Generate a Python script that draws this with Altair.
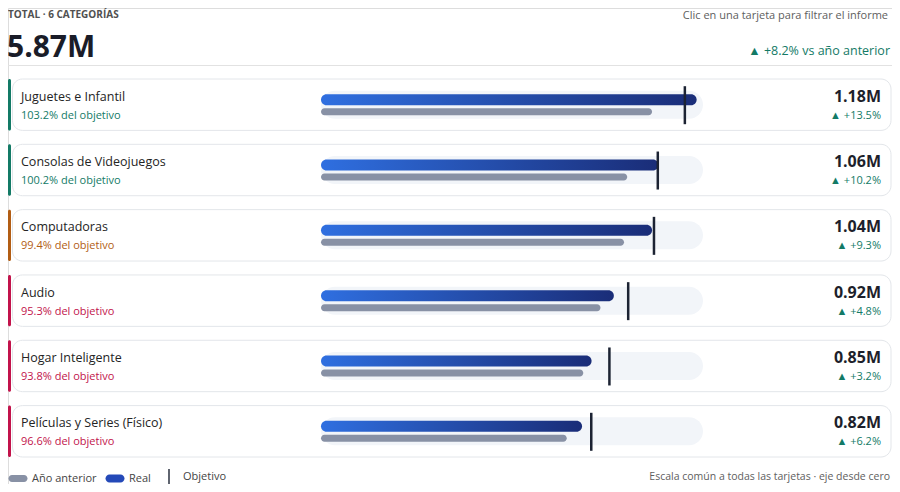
import altair as alt
import pandas as pd

# ---------------- data ----------------
categorias = [
    "Juguetes e Infantil",
    "Consolas de Videojuegos",
    "Computadoras",
    "Audio",
    "Hogar Inteligente",
    "Películas y Series (Físico)",
]
real = [1.18, 1.06, 1.04, 0.92, 0.85, 0.82]            # millones
objetivo = [1.143, 1.058, 1.046, 0.965, 0.906, 0.849]  # millones
anterior = [1.040, 0.962, 0.952, 0.878, 0.824, 0.772]  # millones
pct_objetivo = [103.2, 100.2, 99.4, 95.3, 93.8, 96.6]
crec_anual = [13.5, 10.2, 9.3, 4.8, 3.2, 6.2]
estado = ["ok", "ok", "alerta", "bajo", "bajo", "bajo"]
eje_max = 1.2
crec_total = 8.2
leyenda_series = ["Año anterior", "Real", "Objetivo"]

# ---------------- styling ----------------
F = "Open Sans"
W, H = 884, 476
GREEN, ORANGE, RED = "#137a66", "#b25d14", "#c2134b"

df = pd.DataFrame({
    "categoria": categorias,
    "real": real,
    "objetivo": objetivo,
    "anterior": anterior,
    "estado": estado,
})
df["cero"] = 0.0
df["tope"] = eje_max
df["lbl_val"] = [f"{v:.2f}M" for v in real]
df["lbl_pct"] = [f"{p:.1f}% del objetivo" for p in pct_objetivo]
df["lbl_crec"] = [f"▲ +{g:.1f}%" for g in crec_anual]

Y = alt.Y(
    "categoria:N",
    sort=categorias,
    scale=alt.Scale(domain=categorias, range=[71, 449], paddingInner=0.213, paddingOuter=0),
    axis=None,
)
xs = alt.Scale(domain=[0, eje_max], range=[313, 695])
st_scale = alt.Scale(domain=["ok", "alerta", "bajo"], range=[GREEN, ORANGE, RED])

base = alt.Chart(df)

card = base.mark_rect(fill="white", stroke="#e3e6ea", strokeWidth=1, cornerRadius=10).encode(
    y=Y, x=alt.value(4.5), x2=alt.value(883)
)
accent = base.mark_rect(cornerRadius=1.5).encode(
    y=Y, x=alt.value(0), x2=alt.value(3),
    color=alt.Color("estado:N", scale=st_scale, legend=None),
)
track = base.mark_bar(color="#f2f5f9", cornerRadius=14, size=28).encode(
    y=Y, x=alt.X("cero:Q", scale=xs, axis=None), x2="tope:Q"
)
prior = base.mark_bar(color="#8891a5", cornerRadius=3.5, size=7, yOffset=7).encode(
    y=Y, x=alt.X("cero:Q", scale=xs, axis=None), x2="anterior:Q"
)
grad = alt.Gradient(
    gradient="linear",
    stops=[alt.GradientStop(color="#2f6fe0", offset=0), alt.GradientStop(color="#1a2d78", offset=1)],
    x1=0, x2=1, y1=0, y2=0,
)
realbar = base.mark_bar(color=grad, cornerRadius=5.5, size=11, yOffset=-5).encode(
    y=Y, x=alt.X("cero:Q", scale=xs, axis=None), x2="real:Q"
)
target = base.mark_tick(color="#1c2333", thickness=2.5, size=38, yOffset=0.5, opacity=1).encode(
    y=Y, x=alt.X("objetivo:Q", scale=xs, axis=None)
)

t_title = base.mark_text(align="left", baseline="middle", font=F, fontSize=12.5, color="#242424", dy=-8).encode(
    x=alt.value(13), y=Y, text="categoria:N"
)
t_pct = base.mark_text(align="left", baseline="middle", font=F, fontSize=11, dy=11).encode(
    x=alt.value(13), y=Y, text="lbl_pct:N",
    color=alt.Color("estado:N", scale=st_scale, legend=None),
)
t_val = base.mark_text(align="right", baseline="middle", font=F, fontSize=16, fontWeight="bold",
                       color="#1d1f2b", dy=-8).encode(x=alt.value(873), y=Y, text="lbl_val:N")
t_crec = base.mark_text(align="right", baseline="middle", font=F, fontSize=11, color=GREEN, dy=11).encode(
    x=alt.value(873), y=Y, text="lbl_crec:N"
)

# ---------------- header ----------------
hdr = alt.Chart(pd.DataFrame({
    "t": [f"TOTAL · {len(categorias)} CATEGORÍAS"],
    "tot": [f"{sum(real):.2f}M"],
    "crec": [f"▲ +{crec_total:.1f}% vs año anterior"],
    "hint": ["Clic en una tarjeta para filtrar el informe"],
}))
h1 = hdr.mark_text(align="left", baseline="middle", font=F, fontSize=10, fontWeight="bold", color="#505050").encode(
    x=alt.value(0), y=alt.value(7), text="t:N")
h2 = hdr.mark_text(align="left", baseline="middle", font=F, fontSize=30, fontWeight="bold", color="#1a1c28").encode(
    x=alt.value(-1), y=alt.value(40), text="tot:N")
h3 = hdr.mark_text(align="right", baseline="middle", font=F, fontSize=12.5, color=GREEN).encode(
    x=alt.value(882), y=alt.value(43), text="crec:N")
h4 = hdr.mark_text(align="right", baseline="middle", font=F, fontSize=11, color="#606060").encode(
    x=alt.value(880), y=alt.value(8), text="hint:N")
sep = hdr.mark_rule(color="#e2e2e2", strokeWidth=1).encode(
    x=alt.value(0), x2=alt.value(884), y=alt.value(57.5))
foot = hdr.mark_text(align="right", baseline="middle", font=F, fontSize=10.5, color="#606060").encode(
    x=alt.value(882), y=alt.value(469), text=alt.value("Escala común a todas las tarjetas · eje desde cero"))

# ---------------- legend ----------------
pill = "M-0.6,-0.35H0.6A0.35,0.35 0 0 1 0.6,0.35H-0.6A0.35,0.35 0 0 1 -0.6,-0.35Z"
pill_b = "M-0.55,-0.4H0.55A0.4,0.4 0 0 1 0.55,0.4H-0.55A0.4,0.4 0 0 1 -0.55,-0.4Z"
vline = "M-0.07,-0.8H0.07V0.8H-0.07Z"
leg = alt.Legend(title=None, orient="none", legendX=0, legendY=459, direction="horizontal",
                 symbolSize=400, labelFont=F, labelFontSize=11, labelColor="#444",
                 labelOffset=4, columnPadding=8, symbolStrokeWidth=0)
leg_layer = alt.Chart(pd.DataFrame({"serie": leyenda_series})).transform_filter("false").mark_point(
    filled=True, opacity=1).encode(
    fill=alt.Fill("serie:N", scale=alt.Scale(domain=leyenda_series, range=["#8891a5", "#2449b8", "#1c2333"]),
                  legend=leg),
    shape=alt.Shape("serie:N", scale=alt.Scale(domain=leyenda_series, range=[pill, pill_b, vline]), legend=leg),
    x=alt.value(0), y=alt.value(0),
)

chart = alt.layer(
    sep, h1, h2, h3, h4,
    card, accent, track, prior, realbar, target,
    t_title, t_pct, t_val, t_crec, foot, leg_layer,
).properties(
    width=W, height=H, padding=0,
    autosize=alt.AutoSizeParams(type="none"),
).configure_view(stroke=None).configure(background="white")

chart.save("out.html", embed_options={"renderer": "svg", "actions": False})
